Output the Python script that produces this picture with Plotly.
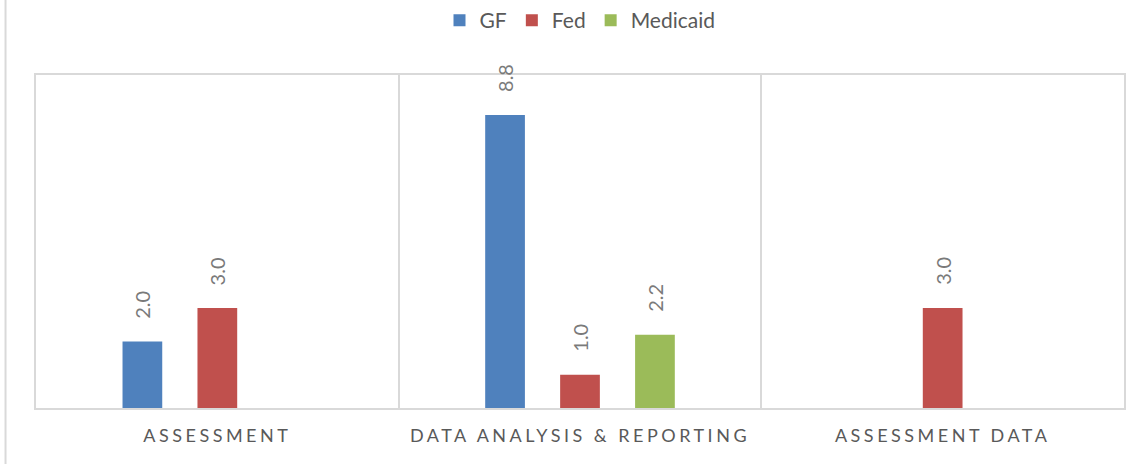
import plotly.graph_objects as go

categories = ["ASSESSMENT", "DATA ANALYSIS & REPORTING", "ASSESSMENT DATA"]
series_names = ["GF", "Fed", "Medicaid"]
gf = [2.0, 8.8, None]
fed = [3.0, 1.0, 3.0]
medicaid = [None, 2.2, None]
colors = ["#4F81BD", "#C0504D", "#9BBB59"]

FONT = "Lato"
GRAY = "#595959"
LABEL_GRAY = "#7A7A7A"

fig = go.Figure()
all_vals = [gf, fed, medicaid]
for name, vals, col in zip(series_names, all_vals, colors):
    fig.add_trace(go.Bar(name=name, x=categories, y=vals, marker_color=col,
                         marker_line_width=0))

# data labels (rotated) as annotations
offsets = [-75, 0, 75]
for vals, off in zip(all_vals, offsets):
    for c, v in zip(categories, vals):
        if v is None:
            continue
        fig.add_annotation(x=c, y=v, text=f"{v:.1f}", textangle=-90, showarrow=False,
                           xshift=off, yshift=21, yanchor="bottom", xanchor="center",
                           font=dict(family=FONT, size=20, color=LABEL_GRAY))

fig.update_layout(
    width=1143, height=464,
    margin=dict(l=36, r=19, t=75, b=56),
    paper_bgcolor="white", plot_bgcolor="white",
    barmode="group", bargap=0.38, bargroupgap=0.47,
    font=dict(family=FONT, color=GRAY),
    legend=dict(orientation="h", x=0.5, xanchor="center", y=1.0, yref="container",
                yanchor="top", font=dict(family=FONT, size=21, color=GRAY),
                itemwidth=30, traceorder="normal"),
    xaxis=dict(tickson="boundaries", showgrid=True, gridcolor="#D9D9D9", gridwidth=1.5,
               showline=True, linecolor="#D9D9D9", linewidth=2, mirror=True,
               ticks="", ticklabelstandoff=10,
               tickfont=dict(family=FONT, size=18, color=GRAY)),
    yaxis=dict(range=[0, 10], showgrid=False, showticklabels=False, zeroline=False,
               showline=True, linecolor="#D9D9D9", linewidth=2, mirror=True, ticks=""),
    shapes=[dict(type="line", xref="paper", yref="paper", x0=-0.028, x1=-0.028,
                 y0=-0.2, y1=1.3, line=dict(color="#D9D9D9", width=2))],
)

post = """
document.body.style.margin='0';
document.querySelectorAll('.xtick text').forEach(function(t){t.style.letterSpacing='3.5px';});
"""
fig.write_html("out.html", post_script=post, config={"displayModeBar": False})
